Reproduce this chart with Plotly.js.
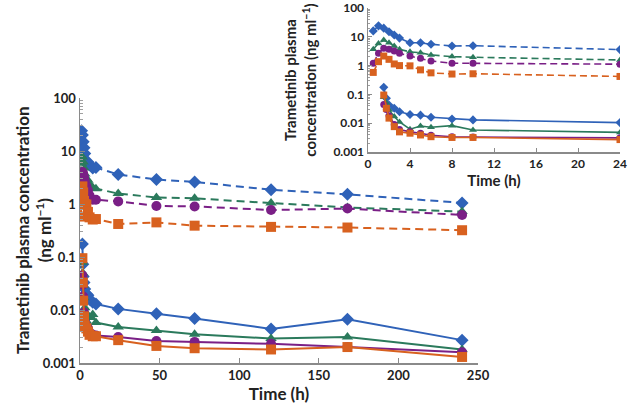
<!DOCTYPE html>
<html>
<head>
<meta charset="utf-8">
<script src="https://cdn.plot.ly/plotly-3.0.1.min.js"></script>
<style>html,body{margin:0;padding:0;background:#fff;}#chart{width:629px;height:414px;}</style>
</head>
<body>
<div id="chart"></div>
<script>
// Time points (h)
const timeOral = [0.5, 1, 1.5, 2, 2.5, 3, 4, 5, 6, 8, 10, 24, 48, 72, 120, 168, 240];
const timeIV = [1.5, 1.75, 2, 2.5, 3, 4, 5, 6, 8, 10, 24, 48, 72, 120, 168, 240];

// Oral (dashed) concentrations, ng/ml
const blueOral = [16, 24, 20, 15, 11.5, 9, 6.2, 6.2, 5.5, 4.8, 4.9, 3.6, 2.9, 2.6, 1.86, 1.52, 1.05];
const greenOral = [3.7, 5.9, 7.7, 6.2, 4.8, 3.7, 3.0, 2.8, 2.35, 2.05, 1.95, 1.57, 1.33, 1.28, 1.04, 0.86, 0.72];
const purpleOral = [1.2, 2.7, 4.0, 3.7, 3.2, 2.7, 2.15, 1.8, 1.45, 1.2, 1.2, 1.12, 0.92, 0.9, 0.77, 0.82, 0.62];
const orangeOral = [0.58, 1.37, 2.15, 1.65, 1.14, 1.0, 0.98, 0.71, 0.56, 0.51, 0.52, 0.42, 0.45, 0.39, 0.37, 0.36, 0.32];

// IV microdose (solid) concentrations, ng/ml
const blueIV = [0.176, 0.073, 0.043, 0.033, 0.025, 0.020, 0.019, 0.016, 0.014, 0.013, 0.0105, 0.0085, 0.0069, 0.0044, 0.0067, 0.0027];
const greenIV = [0.08, 0.05, 0.029, 0.017, 0.011, 0.0062, 0.008, 0.0072, 0.0082, 0.0058, 0.0048, 0.0041, 0.0035, 0.0029, 0.0031, 0.0018];
const purpleIV = [0.045, 0.03, 0.018, 0.009, 0.006, 0.005, 0.0045, 0.0038, 0.0034, 0.0033, 0.0031, 0.0026, 0.0025, 0.0023, 0.002, 0.0016];
const orangeIV = [0.095, 0.033, 0.015, 0.0076, 0.005, 0.0045, 0.0039, 0.0034, 0.0032, 0.0032, 0.0027, 0.0021, 0.0019, 0.0018, 0.002, 0.0013];

const yTickVals = [0.001, 0.01, 0.1, 1, 10, 100];
const yTickText = ['0.001', '0.01', '0.1', '1', '10', '100'];

// minor log ticks (2..9 in each decade)
const minorVals = [];
[0.001, 0.01, 0.1, 1, 10].forEach(d => { for (let k = 2; k <= 9; k++) minorVals.push(+(d * k).toPrecision(3)); });

const series = [
  {x: timeOral, y: blueOral, color: '#2F62B8', symbol: 'diamond', dash: 'dash'},
  {x: timeOral, y: greenOral, color: '#2B7A5C', symbol: 'triangle-up', dash: 'dash'},
  {x: timeOral, y: purpleOral, color: '#7A1F86', symbol: 'circle', dash: 'dash'},
  {x: timeOral, y: orangeOral, color: '#D8611F', symbol: 'square', dash: 'dash'},
  {x: timeIV, y: blueIV, color: '#2F62B8', symbol: 'diamond', dash: 'solid'},
  {x: timeIV, y: greenIV, color: '#2B7A5C', symbol: 'triangle-up', dash: 'solid'},
  {x: timeIV, y: purpleIV, color: '#7A1F86', symbol: 'circle', dash: 'solid'},
  {x: timeIV, y: orangeIV, color: '#D8611F', symbol: 'square', dash: 'solid'}
];

const traces = [];
series.forEach(s => {
  traces.push({x: s.x, y: s.y, xaxis: 'x', yaxis: 'y', type: 'scatter', mode: 'lines+markers',
    line: {color: s.color, width: 2, dash: s.dash === 'dash' ? '8px,5px' : 'solid'},
    marker: {color: s.color, symbol: s.symbol, size: 10}, showlegend: false, hoverinfo: 'skip'});
});
series.forEach(s => {
  const xs = [], ys = [];
  s.x.forEach((t, i) => { if (t <= 24) { xs.push(t); ys.push(s.y[i]); } });
  traces.push({x: xs, y: ys, xaxis: 'x2', yaxis: 'y2', type: 'scatter', mode: 'lines+markers',
    line: {color: s.color, width: 1.6, dash: s.dash === 'dash' ? '7px,4px' : 'solid'},
    marker: {color: s.color, symbol: s.symbol, size: 7}, showlegend: false, hoverinfo: 'skip'});
});

const fontFam = 'Lato, "Open Sans", sans-serif';
const axisCommon = {showgrid: false, zeroline: false, showline: true, linecolor: '#8a8a8a', linewidth: 1.5,
  ticks: 'inside', tickcolor: '#8a8a8a', tickwidth: 1};

const layout = {
  width: 629, height: 414,
  margin: {l: 0, r: 0, t: 0, b: 0},
  paper_bgcolor: '#fff', plot_bgcolor: 'rgba(0,0,0,0)',
  font: {family: fontFam, color: '#222'},
  xaxis: Object.assign({}, axisCommon, {
    domain: [80/629, 478/629], range: [0, 250], tickvals: [0, 50, 100, 150, 200, 250], ticklen: 5,
    tickfont: {size: 13, family: fontFam, weight: 'bold'},
    title: {text: '<b>Time (h)</b>', font: {size: 17, family: fontFam}, standoff: 5}
  }),
  yaxis: Object.assign({}, axisCommon, {
    domain: [51/414, 316/414], type: 'log', range: [-3, 2], tickvals: yTickVals, ticktext: yTickText, ticklen: 5,
    minor: {tickvals: minorVals, ticks: 'inside', ticklen: 3, tickcolor: '#a0a0a0', tickwidth: 1, showgrid: false},
    tickfont: {size: 13, family: fontFam, weight: 'bold'}
  }),
  xaxis2: Object.assign({}, axisCommon, {
    anchor: 'y2', domain: [368/629, 620/629], range: [0, 24], tickvals: [0, 4, 8, 12, 16, 20, 24], ticklen: 4,
    tickfont: {size: 12, family: fontFam, weight: 'bold'},
    title: {text: '<b>Time (h)</b>', font: {size: 15, family: fontFam}, standoff: 4}
  }),
  yaxis2: Object.assign({}, axisCommon, {
    anchor: 'x2', domain: [262/414, 406/414], type: 'log', range: [-3, 2], tickvals: yTickVals, ticktext: yTickText, ticklen: 4,
    minor: {tickvals: minorVals, ticks: 'inside', ticklen: 2, tickcolor: '#a0a0a0', tickwidth: 1, showgrid: false},
    tickfont: {size: 12, family: fontFam, weight: 'bold'},
    title: {text: '<b>Trametinib plasma<br>concentration (ng ml<sup>−1</sup>)</b>', font: {size: 15, family: fontFam}, standoff: 13}
  }),
  annotations: [{
    xref: 'paper', yref: 'paper', x: 33/629, y: (414 - 230)/414, xanchor: 'center', yanchor: 'middle',
    textangle: -90, showarrow: false,
    text: '<b>Trametinib plasma concentration<br>(ng ml<sup>−1</sup>)</b>',
    font: {size: 17, family: fontFam, color: '#222'}
  }]
};

Plotly.newPlot('chart', traces, layout, {staticPlot: true, displayModeBar: false});
</script>
</body>
</html>
